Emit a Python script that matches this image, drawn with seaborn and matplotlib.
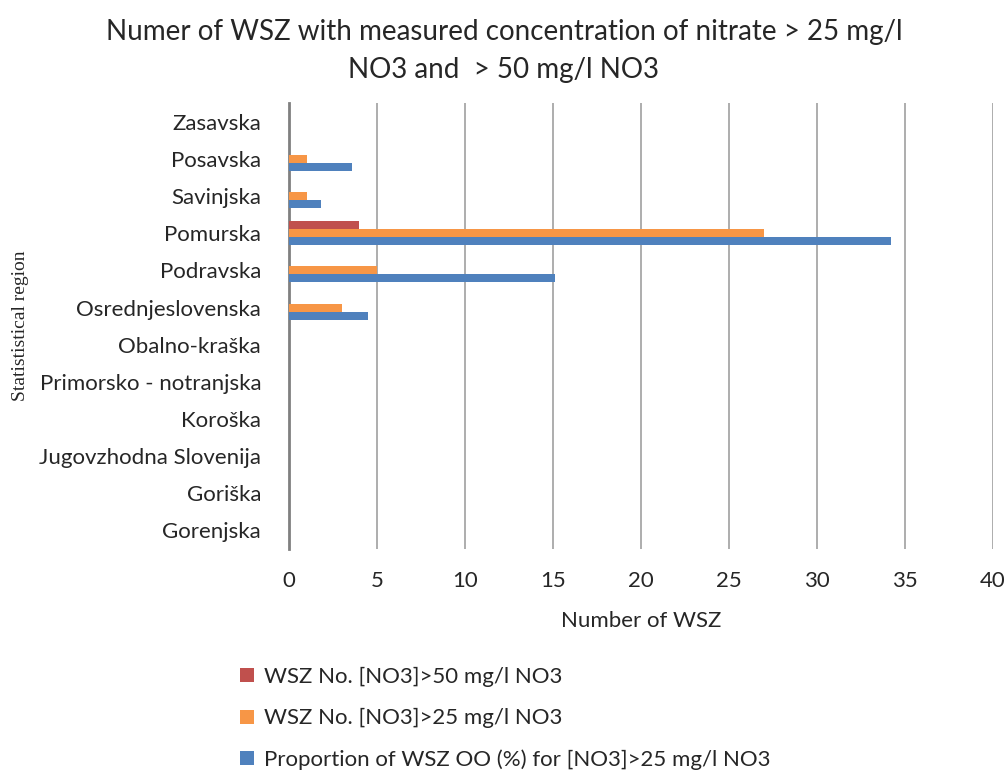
import numpy as np
import pandas as pd
import matplotlib
matplotlib.use("Agg")
import matplotlib.pyplot as plt
import seaborn as sns

regions = ["Zasavska", "Posavska", "Savinjska", "Pomurska", "Podravska",
           "Osrednjeslovenska", "Obalno-kraška", "Primorsko - notranjska",
           "Koroška", "Jugovzhodna Slovenija", "Goriška", "Gorenjska"]

over50 = [0, 0, 0, 4, 0, 0, 0, 0, 0, 0, 0, 0]
over25 = [0, 1, 1, 27, 5, 3, 0, 0, 0, 0, 0, 0]
proportion = [0, 3.6, 1.8, 34.2, 15.1, 4.5, 0, 0, 0, 0, 0, 0]

series_names = ["WSZ No. [NO3]>50 mg/l NO3",
                "WSZ No. [NO3]>25 mg/l NO3",
                "Proportion of WSZ OO (%) for [NO3]>25 mg/l NO3"]
colors = ["#C0504D", "#F79646", "#4F81BD"]

df = pd.DataFrame({
    "region": regions * 3,
    "value": over50 + over25 + proportion,
    "series": np.repeat(series_names, len(regions)),
})

sns.set_style("white")
plt.rcParams["font.family"] = ["Lato", "DejaVu Sans"]

fig = plt.figure(figsize=(10.08, 7.71), dpi=100)
ax = fig.add_axes([0.2867, 0.288, 0.698, 0.578])

sns.barplot(data=df, y="region", x="value", hue="series", order=regions,
            hue_order=series_names, palette=colors, orient="h", width=0.65,
            saturation=1, linewidth=0, ax=ax, zorder=3)

ax.set_xlim(0, 40)
ax.set_xticks(range(0, 41, 5))
ax.xaxis.grid(True, color="#a0a0a0", linewidth=1.2, zorder=0)
ax.yaxis.grid(False)
for side in ["top", "right", "bottom"]:
    ax.spines[side].set_visible(False)
ax.spines["left"].set_color("#808080")
ax.spines["left"].set_linewidth(2)
ax.tick_params(axis="y", labelsize=16, length=0, pad=20)
ax.tick_params(axis="x", labelsize=16, length=0, pad=16)

ax.set_xlabel("Number of WSZ", fontsize=16, labelpad=14)
ax.set_ylabel("Statististical region", fontsize=14, family="Liberation Serif")
ax.yaxis.set_label_coords(-0.37, 0.5)

fig.suptitle("Numer of WSZ with measured concentration of nitrate > 25 mg/l\nNO3 and  > 50 mg/l NO3",
             fontsize=20, y=0.975, linespacing=1.55)

ax.legend(loc="upper left", bbox_to_anchor=(-0.082, -0.245), frameon=False,
          fontsize=16, handlelength=0.6, handleheight=0.6, labelspacing=0.95,
          handletextpad=0.45, borderaxespad=0)

fig.savefig("out.png", dpi=100)
